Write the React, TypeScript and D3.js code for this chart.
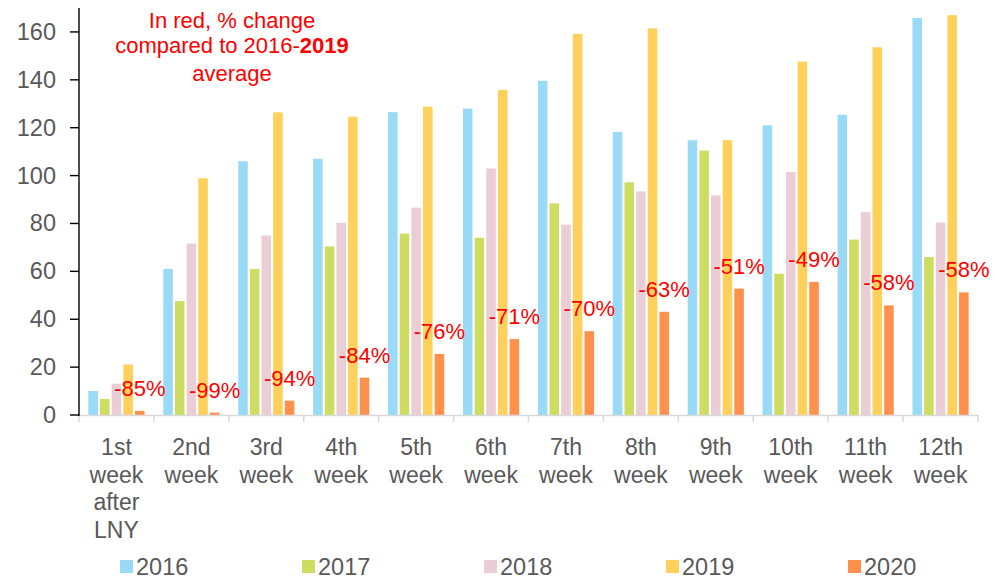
import React from "react";
import * as d3 from "d3";

const categories = [
  ["1st", "week", "after", "LNY"],
  ["2nd", "week"],
  ["3rd", "week"],
  ["4th", "week"],
  ["5th", "week"],
  ["6th", "week"],
  ["7th", "week"],
  ["8th", "week"],
  ["9th", "week"],
  ["10th", "week"],
  ["11th", "week"],
  ["12th", "week"],
];
const years = ["2016", "2017", "2018", "2019", "2020"];
const v2016 = [10, 61, 106, 107, 126.5, 128, 139.6, 118.2, 114.8, 121, 125.4, 165.8];
const v2017 = [6.7, 47.6, 61, 70.4, 75.8, 74, 88.4, 97.2, 110.4, 59, 73.3, 66];
const v2018 = [13.1, 71.6, 75, 80.3, 86.6, 103, 79.5, 93.4, 91.7, 101.5, 84.7, 80.4];
const v2019 = [21.1, 98.9, 126.4, 124.6, 128.8, 135.8, 159.2, 161.5, 114.8, 147.6, 153.6, 167];
const v2020 = [1.7, 1, 6, 15.6, 25.5, 31.7, 35, 43.1, 52.8, 55.6, 45.8, 51.2];
const pctLabels = ["-85%", "-99%", "-94%", "-84%", "-76%", "-71%", "-70%", "-63%", "-51%", "-49%", "-58%", "-58%"];
const yTicks = [0, 20, 40, 60, 80, 100, 120, 140, 160];
const colors = ["#99dbf7", "#cedd62", "#ebcdd6", "#ffd15c", "#ff914d"];
const series = [v2016, v2017, v2018, v2019, v2020];

const FONT = "'Liberation Sans', Arial, sans-serif";

export default function App() {
  const W = 995, H = 579;
  const left = 79, right = 978, top = 8, bottom = 415;
  const idx = categories.map((_, i) => String(i));
  const x0 = d3.scaleBand<string>().domain(idx).range([left, right]).paddingInner(0.25).paddingOuter(0.125);
  const x1 = d3.scaleBand<string>().domain(years).range([0, x0.bandwidth()]).paddingInner(0.18).paddingOuter(0);
  const y = d3.scaleLinear().domain([0, 170]).range([bottom, top]);
  const step = (right - left) / categories.length;

  return (
    <svg width={W} height={H} style={{ position: "absolute", left: 0, top: 0, background: "#fff" }}>
      {/* bars */}
      {idx.map((c, i) => (
        <g key={c} transform={`translate(${x0(c)},0)`}>
          {years.map((yr, s) => (
            <rect
              key={yr}
              x={x1(yr)}
              y={y(series[s][i])}
              width={x1.bandwidth()}
              height={bottom - y(series[s][i])}
              fill={colors[s]}
            />
          ))}
        </g>
      ))}
      {/* x axis */}
      <line x1={left} x2={right} y1={bottom + 0.5} y2={bottom + 0.5} stroke="#d9d9d9" strokeWidth={1.5} />
      {d3.range(categories.length + 1).map((k) => (
        <line key={k} x1={left + k * step} x2={left + k * step} y1={bottom} y2={bottom + 7} stroke="#d9d9d9" strokeWidth={1.5} />
      ))}
      {/* y axis */}
      <line x1={left} x2={left} y1={top} y2={bottom + 1} stroke="#000" strokeWidth={1.4} />
      {yTicks.map((t) => (
        <g key={t}>
          <line x1={70} x2={left} y1={y(t)} y2={y(t)} stroke="#000" strokeWidth={1.4} />
          <text x={56} y={y(t) + 8} textAnchor="end" fontFamily={FONT} fontSize={23.5} fill="#595959">
            {t}
          </text>
        </g>
      ))}
      {/* x labels */}
      {categories.map((lines, i) => (
        <text key={i} x={(x0(String(i)) as number) + x0.bandwidth() / 2} y={455} textAnchor="middle" fontFamily={FONT} fontSize={23} fill="#595959">
          {lines.map((l, j) => (
            <tspan key={j} x={(x0(String(i)) as number) + x0.bandwidth() / 2} dy={j === 0 ? 0 : 27.5}>
              {l}
            </tspan>
          ))}
        </text>
      ))}
      {/* percent labels */}
      {pctLabels.map((p, i) => {
        const cx = (x0(String(i)) as number) + (x1("2020") as number) + x1.bandwidth() / 2;
        return (
          <text key={i} x={cx} y={y(v2020[i]) - 15} textAnchor="middle" fontFamily={FONT} fontSize={22} fill="#ff0000">
            {p}
          </text>
        );
      })}
      {/* annotation */}
      <text x={232} y={28} textAnchor="middle" fontFamily={FONT} fontSize={22} fill="#ff0000">
        In red, % change
      </text>
      <text x={232} y={53} textAnchor="middle" fontFamily={FONT} fontSize={22} fill="#ff0000">
        compared to 2016-<tspan fontWeight="bold">2019</tspan>
      </text>
      <text x={232} y={81} textAnchor="middle" fontFamily={FONT} fontSize={22} fill="#ff0000">
        average
      </text>
      {/* legend */}
      {years.map((yr, s) => (
        <g key={yr} transform={`translate(${120 + s * 182},0)`}>
          <rect x={0} y={560} width={13} height={13} fill={colors[s]} />
          <text x={16} y={575} fontFamily={FONT} fontSize={23.5} fill="#595959">
            {yr}
          </text>
        </g>
      ))}
    </svg>
  );
}
